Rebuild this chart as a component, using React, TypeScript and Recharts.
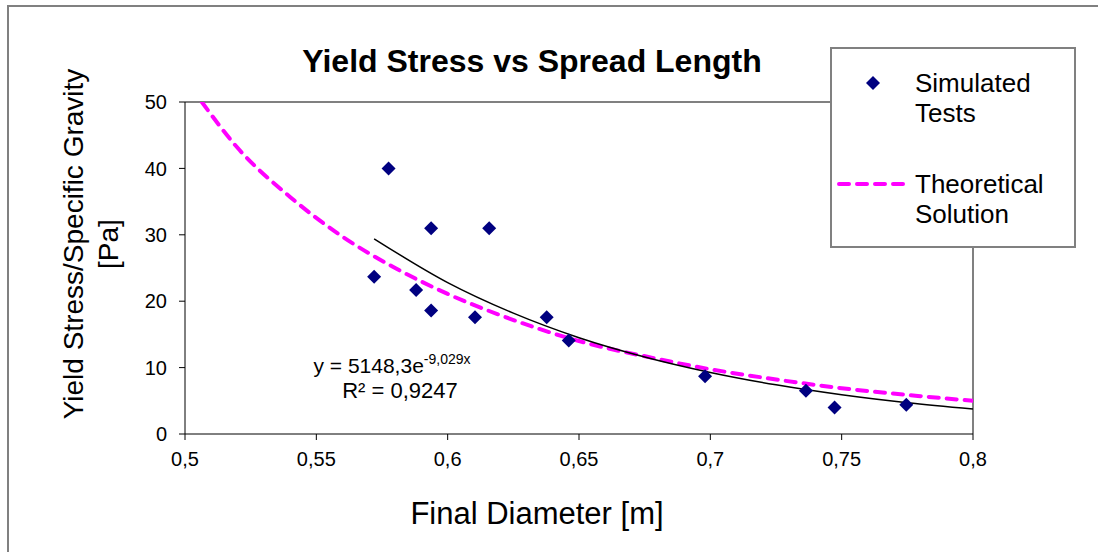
import React from 'react';
import {
  ComposedChart,
  Scatter,
  Line,
  XAxis,
  YAxis,
  ReferenceLine,
  Legend,
} from 'recharts';

// measured test points
const testDiameter = [0.572, 0.5775, 0.588, 0.5937, 0.5937, 0.6104, 0.6158, 0.6377, 0.6461, 0.698, 0.7364, 0.7473, 0.7746];
const testStress = [23.7, 40.0, 21.7, 18.6, 31.0, 17.6, 31.0, 17.6, 14.1, 8.7, 6.5, 4.0, 4.4];

// theoretical solution (pink dashed)
const theoryDiameter = [0.5064, 0.52, 0.54, 0.56, 0.58, 0.6, 0.62, 0.65, 0.68, 0.7, 0.72, 0.75, 0.78, 0.8];
const theoryStress = [50, 43.1, 35.7, 29.7, 25.0, 21.1, 17.9, 14.0, 11.3, 9.75, 8.5, 6.9, 5.7, 5.0];

// excel exponential trendline (black)
const trendDiameter = [0.572, 0.6, 0.625, 0.65, 0.675, 0.7, 0.725, 0.75, 0.775, 0.8];
const trendStress = [29.4, 22.8, 18.2, 14.5, 11.6, 9.27, 7.4, 5.9, 4.7, 3.76];

const xTicks = [0.5, 0.55, 0.6, 0.65, 0.7, 0.75, 0.8];
const yTicks = [0, 10, 20, 30, 40, 50];

const tests = testDiameter.map((x, i) => ({ x, y: testStress[i] }));
const theory = theoryDiameter.map((x, i) => ({ x, y: theoryStress[i] }));
const trend = trendDiameter.map((x, i) => ({ x, y: trendStress[i] }));

const FONT = '"Liberation Sans", Arial, sans-serif';
const GRAY = '#808080';
const NAVY = '#000080';
const PINK = '#FF00FF';

const comma = (v: number) => String(v).replace('.', ',');

const Diamond = (props: any) => {
  const { cx, cy } = props;
  if (cx == null || cy == null) return null;
  return <path d={`M${cx},${cy - 7}L${cx + 7},${cy}L${cx},${cy + 7}L${cx - 7},${cy}Z`} fill={NAVY} />;
};

const LegendBox = () => (
  <svg width={246} height={201} style={{ display: 'block', fontFamily: FONT }}>
    <rect x={1} y={1} width={244} height={199} fill="#fff" stroke={GRAY} strokeWidth={2} />
    <path d="M43,29L50,36L43,43L36,36Z" fill={NAVY} />
    <text x={85} y={45} fontSize={26} fill="#000">Simulated</text>
    <text x={85} y={75} fontSize={26} fill="#000">Tests</text>
    <line x1={9} y1={137} x2={78} y2={137} stroke={PINK} strokeWidth={4} strokeDasharray="10 8" strokeLinecap="round" />
    <text x={85} y={146} fontSize={26} fill="#000">Theoretical</text>
    <text x={85} y={176} fontSize={26} fill="#000">Solution</text>
  </svg>
);

export default function App() {
  return (
    <div style={{ position: 'absolute', left: 0, top: 0, width: 1098, height: 552, background: '#fff', fontFamily: FONT }}>
      <ComposedChart width={1098} height={552} data={tests} margin={{ top: 102, right: 125, bottom: 0, left: 0 }}>
        <XAxis
          dataKey="x"
          type="number"
          domain={[0.5, 0.8]}
          ticks={xTicks}
          tickFormatter={comma}
          height={118}
          stroke="#000"
          tickSize={6}
          tickMargin={12}
          tick={{ fill: '#000', fontSize: 20, fontFamily: FONT }}
          allowDataOverflow
        />
        <YAxis
          dataKey="y"
          type="number"
          domain={[0, 50]}
          ticks={yTicks}
          width={185}
          stroke="#000"
          tickSize={6}
          tickMargin={12}
          tick={{ fill: '#000', fontSize: 20, fontFamily: FONT }}
          allowDataOverflow
        />
        <ReferenceLine y={50} stroke={GRAY} strokeWidth={2} />
        <ReferenceLine x={0.8} stroke={GRAY} strokeWidth={2} />
        <Line
          data={theory}
          dataKey="y"
          type="monotone"
          stroke={PINK}
          strokeWidth={4}
          strokeDasharray="10 8"
          strokeLinecap="round"
          dot={false}
          isAnimationActive={false}
          name="Theoretical Solution"
        />
        <Scatter data={tests} dataKey="y" shape={<Diamond />} isAnimationActive={false} name="Simulated Tests" />
        <Line
          data={trend}
          dataKey="y"
          type="monotone"
          stroke="#000"
          strokeWidth={1.5}
          dot={false}
          isAnimationActive={false}
          legendType="none"
        />
        <Legend
          layout="horizontal"
          verticalAlign="middle"
          align="center"
          content={() => <LegendBox />}
          wrapperStyle={{ position: 'absolute', left: 830, top: 47, width: 246, height: 201 }}
        />
      </ComposedChart>

      <svg
        width={1098}
        height={552}
        style={{ position: 'absolute', left: 0, top: 0, pointerEvents: 'none', fontFamily: FONT }}
      >
        <path d="M8,560L8,6L1110,6" fill="none" stroke={GRAY} strokeWidth={2} />
        <text x={532} y={72} textAnchor="middle" fontSize={32} fontWeight="bold" fill="#000">
          Yield Stress vs Spread Length
        </text>
        <text x={537} y={524} textAnchor="middle" fontSize={31} fill="#000">
          Final Diameter [m]
        </text>
        <text transform="translate(83,244) rotate(-90)" textAnchor="middle" fontSize={28} fill="#000">
          Yield Stress/Specific Gravity
        </text>
        <text transform="translate(118,244) rotate(-90)" textAnchor="middle" fontSize={28} fill="#000">
          [Pa]
        </text>
        <text x={392} y={373} textAnchor="middle" fontSize={21} fill="#000">
          y = 5148,3e<tspan fontSize={14} dy={-9}>-9,029x</tspan>
        </text>
        <text x={400} y={398} textAnchor="middle" fontSize={22} fill="#000">
          R² = 0,9247
        </text>
      </svg>
    </div>
  );
}
